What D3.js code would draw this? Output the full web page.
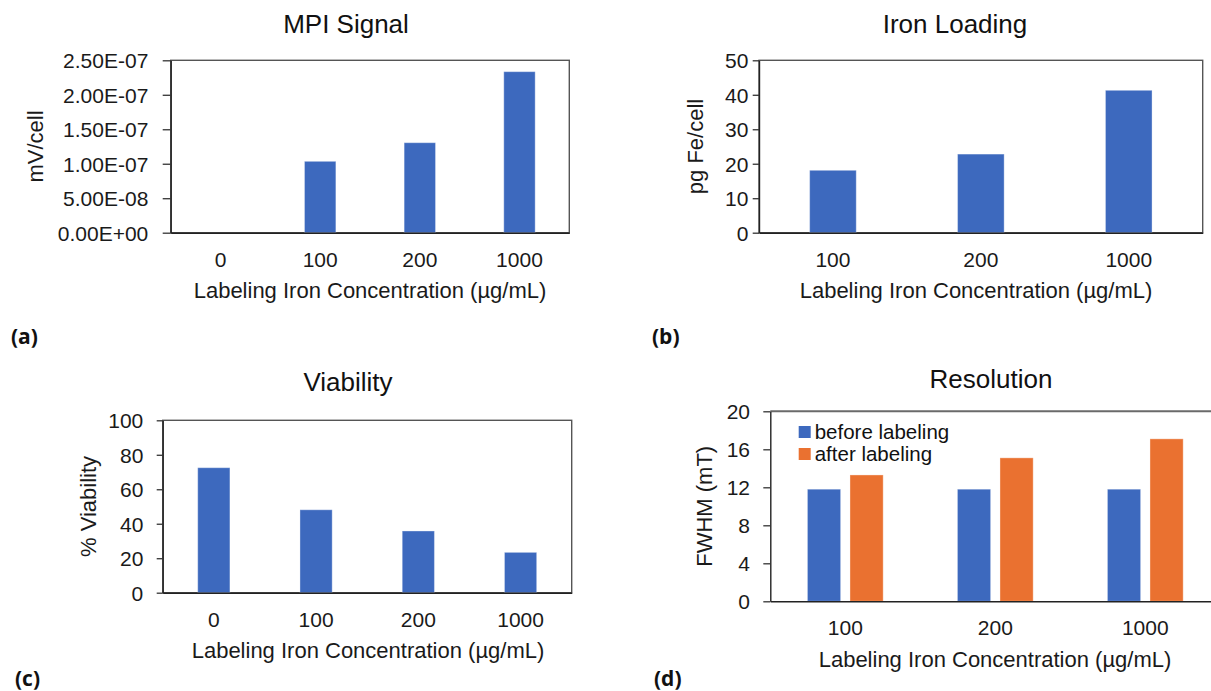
<!DOCTYPE html>
<html>
<head>
<meta charset="utf-8">
<script src="https://cdn.jsdelivr.net/npm/d3@7"></script>
<style>
  body { margin: 0; background: #fff; }
  svg { display: block; font-family: "Liberation Sans", Arial, sans-serif; }
  .tick text { fill: #1a1a1a; }
</style>
</head>
<body>
<svg id="fig" width="1211" height="691"></svg>
<script>
// (a) MPI signal
const mpiCats = ['0', '100', '200', '1000'];
const mpiValues = [0, 1.035e-7, 1.305e-7, 2.335e-7];
const mpiTicks = [0, 5e-8, 1e-7, 1.5e-7, 2e-7, 2.5e-7];

// (b) iron loading
const ironCats = ['100', '200', '1000'];
const ironValues = [18.1, 22.8, 41.3];
const ironTicks = [0, 10, 20, 30, 40, 50];

// (c) viability
const viabilityCats = ['0', '100', '200', '1000'];
const viabilityValues = [72.5, 48.1, 35.8, 23.4];
const viabilityTicks = [0, 20, 40, 60, 80, 100];

// (d) resolution
const resolutionCats = ['100', '200', '1000'];
const resolutionSeries = ['before labeling', 'after labeling'];
const beforeValues = [11.8, 11.8, 11.8];
const afterValues = [13.3, 15.1, 17.1];
const resolutionTicks = [0, 4, 8, 12, 16, 20];

const blue = '#3d69be';
const orange = '#ea7130';
const xTitle = 'Labeling Iron Concentration (µg/mL)';

const svg = d3.select('#fig');

// excel style scientific labels, e.g. 2.50E-07
function sci(d) {
  const parts = d.toExponential(2).split('e');
  const sign = parts[1][0];
  const exp = parts[1].slice(1).padStart(2, '0');
  return parts[0] + 'E' + sign + exp;
}

function drawPanel(cfg) {
  const g = svg.append('g');
  const width = cfg.right - cfg.left;
  const height = cfg.bottom - cfg.top;

  const x = d3.scaleBand()
      .domain(cfg.cats)
      .range([cfg.left, cfg.right])
      .paddingInner(cfg.groups ? 0.495 : 0.685)
      .paddingOuter(cfg.groups ? 0.2475 : 0.3425);

  const y = d3.scaleLinear()
      .domain([0, d3.max(cfg.ticks)])
      .range([cfg.bottom, cfg.top]);

  // plot border
  if (cfg.fullBox) {
    g.append('rect')
        .attr('x', cfg.left)
        .attr('y', cfg.top)
        .attr('width', width)
        .attr('height', height)
        .attr('fill', 'none')
        .attr('stroke', '#555')
        .attr('stroke-width', 1.4);
  } else {
    g.append('line')
        .attr('x1', cfg.left).attr('x2', cfg.right)
        .attr('y1', cfg.top).attr('y2', cfg.top)
        .attr('stroke', '#6a6a6a')
        .attr('stroke-width', 2);
  }

  // bars
  if (cfg.groups) {
    const x1 = d3.scaleBand()
        .domain(cfg.series)
        .range([0, x.bandwidth()])
        .paddingInner(0.22);
    const color = d3.scaleOrdinal().domain(cfg.series).range([blue, orange]);
    const rows = cfg.cats.map((c, i) => ({cat: c, vals: cfg.groups.map((arr, j) => ({key: cfg.series[j], v: arr[i]}))}));
    g.selectAll('.grp')
        .data(rows)
      .join('g')
        .attr('class', 'grp')
        .attr('transform', d => `translate(${x(d.cat)},0)`)
      .selectAll('rect')
        .data(d => d.vals)
      .join('rect')
        .attr('x', d => x1(d.key))
        .attr('width', x1.bandwidth())
        .attr('y', d => y(d.v))
        .attr('height', d => y(0) - y(d.v))
        .attr('fill', d => color(d.key))
        .attr('stroke', '#ffffff')
        .attr('stroke-opacity', 0.35)
        .attr('stroke-width', 1);
  } else {
    g.selectAll('.bar')
        .data(cfg.cats.map((c, i) => ({cat: c, v: cfg.values[i]})))
      .join('rect')
        .attr('class', 'bar')
        .attr('x', d => x(d.cat))
        .attr('width', x.bandwidth())
        .attr('y', d => y(d.v))
        .attr('height', d => y(0) - y(d.v))
        .attr('fill', blue)
        .attr('stroke', '#ffffff')
        .attr('stroke-opacity', 0.35)
        .attr('stroke-width', 1);
  }

  // y axis
  const yAxis = d3.axisLeft(y)
      .tickValues(cfg.ticks)
      .tickSize(cfg.tickSize)
      .tickSizeOuter(0)
      .tickPadding(cfg.tickPad)
      .tickFormat(cfg.fmt || (d => d));
  g.append('g')
      .attr('transform', `translate(${cfg.left},0)`)
      .call(yAxis)
      .call(a => a.selectAll('text').style('font-size', '21px').attr('dy', '0.36em'))
      .call(a => a.selectAll('line').attr('stroke', '#333').attr('stroke-width', 1.3))
      .call(a => a.select('.domain').attr('stroke', '#222').attr('stroke-width', 1.4));

  // x axis
  const xAxis = d3.axisBottom(x).tickSize(0).tickSizeOuter(0).tickPadding(19);
  g.append('g')
      .attr('transform', `translate(0,${cfg.bottom})`)
      .call(xAxis)
      .call(a => a.selectAll('text').style('font-size', '21px'))
      .call(a => a.select('.domain').attr('stroke', '#222').attr('stroke-width', 1.4));

  // titles
  g.append('text')
      .attr('x', cfg.titleX)
      .attr('y', cfg.titleY)
      .attr('text-anchor', 'middle')
      .style('font-size', '26px')
      .attr('fill', '#111')
      .text(cfg.title);

  g.append('text')
      .attr('transform', `translate(${cfg.yTitleX},${(cfg.top + cfg.bottom) / 2}) rotate(-90)`)
      .attr('text-anchor', 'middle')
      .style('font-size', '22px')
      .attr('fill', '#1a1a1a')
      .text(cfg.yTitle);

  g.append('text')
      .attr('x', cfg.xTitleX)
      .attr('y', cfg.xTitleY)
      .attr('text-anchor', 'middle')
      .style('font-size', '22px')
      .attr('fill', '#1a1a1a')
      .text(xTitle);

  // panel letter
  g.append('text')
      .attr('x', cfg.letterX)
      .attr('y', cfg.letterY)
      .style('font-family', '"Open Sans", sans-serif')
      .style('font-weight', 'bold')
      .style('font-size', '21px')
      .attr('fill', '#111')
      .text(cfg.letter);

  if (cfg.groups) {
    const leg = g.append('g');
    cfg.series.forEach((s, i) => {
      leg.append('rect')
          .attr('x', cfg.legendX)
          .attr('y', cfg.legendY + i * 22)
          .attr('width', 12)
          .attr('height', 12)
          .attr('fill', i === 0 ? blue : orange);
      leg.append('text')
          .attr('x', cfg.legendX + 16)
          .attr('y', cfg.legendY + i * 22 + 13)
          .style('font-size', '20.5px')
          .attr('fill', '#111')
          .text(s);
    });
  }
}

drawPanel({
  cats: mpiCats, values: mpiValues, ticks: mpiTicks, fmt: sci,
  left: 170.7, right: 569.3, top: 60.3, bottom: 232.7, fullBox: true,
  tickSize: 8, tickPad: 14.4,
  title: 'MPI Signal', titleX: 346, titleY: 33,
  yTitle: 'mV/cell', yTitleX: 43,
  xTitleX: 370, xTitleY: 298,
  letter: '(a)', letterX: 11, letterY: 344
});

drawPanel({
  cats: ironCats, values: ironValues, ticks: ironTicks,
  left: 759, right: 1202.7, top: 60.3, bottom: 232.7, fullBox: true,
  tickSize: 6.3, tickPad: 4.4,
  title: 'Iron Loading', titleX: 955, titleY: 33,
  yTitle: 'pg Fe/cell', yTitleX: 703,
  xTitleX: 976, xTitleY: 298,
  letter: '(b)', letterX: 652, letterY: 344
});

drawPanel({
  cats: viabilityCats, values: viabilityValues, ticks: viabilityTicks,
  left: 162.7, right: 571.7, top: 420.3, bottom: 592.7, fullBox: true,
  tickSize: 6, tickPad: 13.4,
  title: 'Viability', titleX: 348, titleY: 391,
  yTitle: '% Viability', yTitleX: 95.5,
  xTitleX: 368, xTitleY: 658,
  letter: '(c)', letterX: 15, letterY: 686
});

drawPanel({
  cats: resolutionCats, groups: [beforeValues, afterValues], series: resolutionSeries,
  ticks: resolutionTicks,
  left: 770.3, right: 1220.3, top: 411.3, bottom: 601.3, fullBox: false,
  tickSize: 7, tickPad: 13.3,
  title: 'Resolution', titleX: 991, titleY: 388,
  yTitle: 'FWHM (mT)', yTitleX: 712,
  xTitleX: 995, xTitleY: 666.5,
  letter: '(d)', letterX: 654, letterY: 686,
  legendX: 798.7, legendY: 426
});
</script>
</body>
</html>
